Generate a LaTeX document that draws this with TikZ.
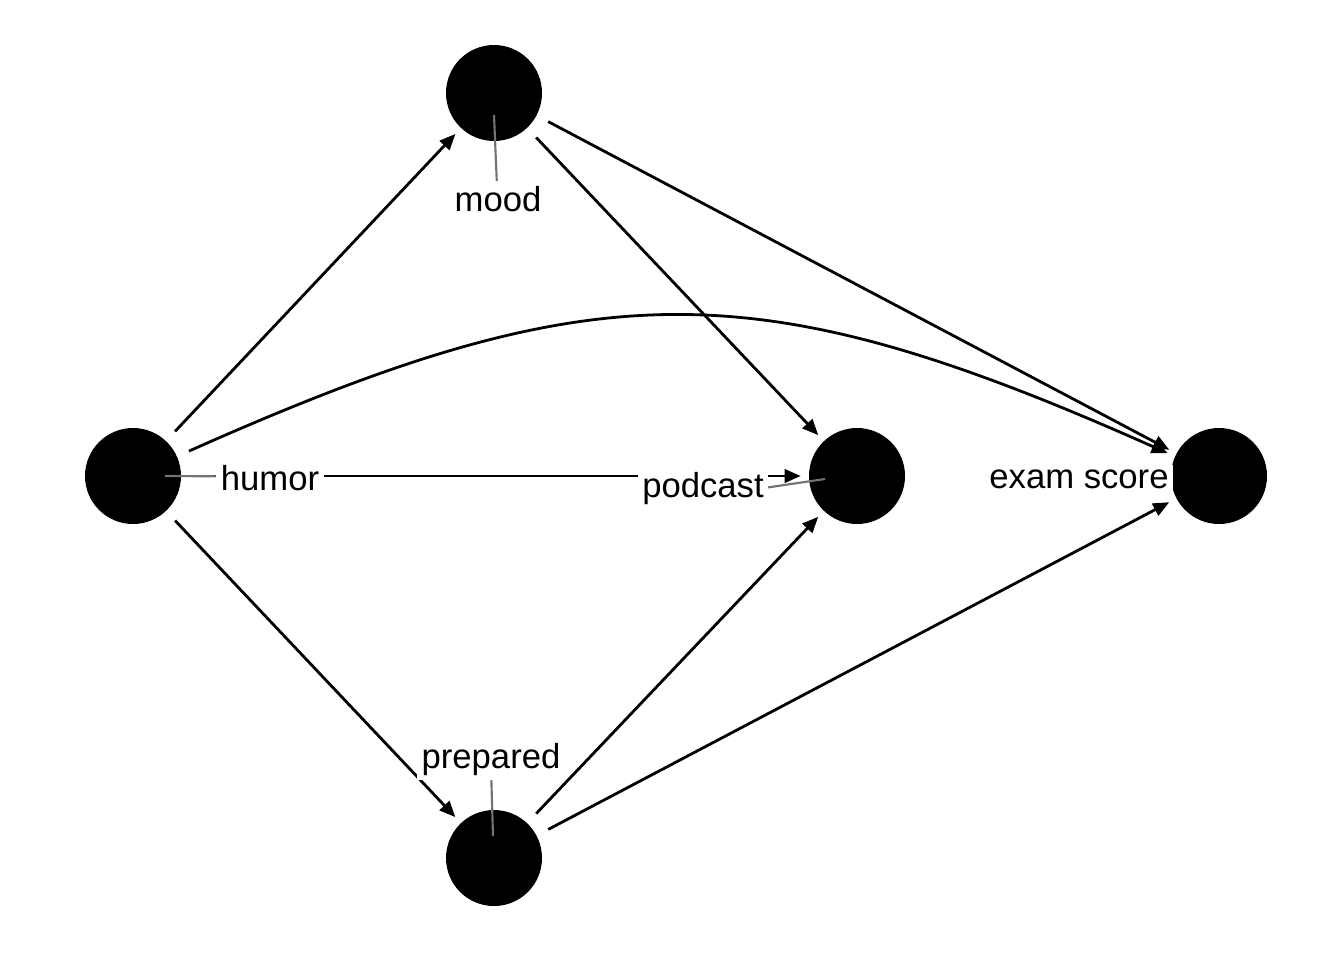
\documentclass[tikz,border=0pt]{standalone}
\usepackage{fontspec}
\setmainfont{Liberation Sans}
\usetikzlibrary{arrows.meta}

\tikzset{
  dagnode/.style={circle, fill=black, minimum size=72pt, inner sep=0pt},
  dagedge/.style={line width=2.1pt, -{Triangle[length=12pt, width=10pt]}, shorten <=9.75pt, shorten >=6pt},
  daglabel/.style={fill=white, inner sep=3.5pt, anchor=base, font=\fontsize{26}{30}\selectfont},
  leader/.style={black!55, line width=1.6pt}
}

\begin{document}
\begin{tikzpicture}[x=0.75pt, y=-0.75pt]
  \useasboundingbox (0,0) rectangle (1344,960);

  \node[dagnode] (humor)    at (133,476)  {};
  \node[dagnode] (mood)     at (494,93)   {};
  \node[dagnode] (podcast)  at (857,476)  {};
  \node[dagnode] (exam)     at (1219,476) {};
  \node[dagnode] (prepared) at (494,858)  {};

  \draw[dagedge] (humor) -- (mood);
  \draw[dagedge] (humor) -- (prepared);
  \draw[dagedge] (humor) -- (podcast);
  \draw[dagedge] (humor) to[out=24, in=156, looseness=1.18] (exam);
  \draw[dagedge] (mood) -- (podcast);
  \draw[dagedge] (mood) -- (exam);
  \draw[dagedge] (prepared) -- (podcast);
  \draw[dagedge] (prepared) -- (exam);

  % label pins and repelled labels
  \coordinate (humorpin)    at (165,476);
  \coordinate (moodpin)     at (494,115);
  \coordinate (podcastpin)  at (825,479);
  \coordinate (preparedpin) at (493,836);
  \coordinate (humorlab)    at (270,490);
  \coordinate (moodlab)     at (498,211);
  \coordinate (podcastlab)  at (703,497);
  \coordinate (examlab)     at (1079,488);
  \coordinate (preparedlab) at (491,768);

  \draw[leader] (humorpin) -- ([yshift=10pt]humorlab);
  \draw[leader] (moodpin) -- (moodlab);
  \draw[leader] (podcastpin) -- (podcastlab);
  \draw[leader] (preparedpin) -- (preparedlab);

  \node[daglabel] at (humorlab)    {humor};
  \node[daglabel] at (moodlab)     {mood};
  \node[daglabel] at (podcastlab)  {podcast};
  \node[daglabel] at (examlab)     {exam score};
  \node[daglabel] at (preparedlab) {prepared};
\end{tikzpicture}
\end{document}
